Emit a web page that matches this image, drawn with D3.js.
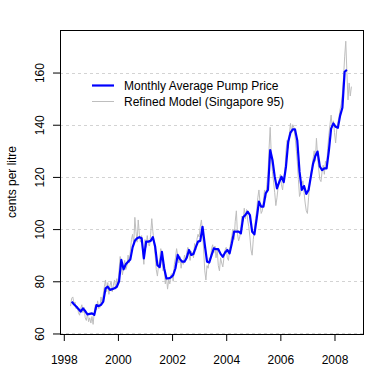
<!DOCTYPE html>
<html>
<head>
<meta charset="utf-8">
<script src="https://cdn.jsdelivr.net/npm/d3@7"></script>
<style>
  body { margin: 0; background: #fff; }
  svg text { font-family: "Liberation Sans", Arial, sans-serif; font-size: 12px; fill: #000; }
</style>
</head>
<body>
<div id="chart"></div>
<script>
// monthly average pump price, April 1998 .. June 2008 (cents per litre)
const pumpStart = 1998 + 3 / 12;
const pumpPrice = [
  72.2, 71.2, 70.3, 69.4, 68.4, 69.6, 68.6, 67.3, 67.5,
  67.7, 67.1, 70.9, 70.5, 71.0, 72.2, 77.3, 77.9, 76.7, 77.0, 77.3, 77.9,
  80.0, 88.2, 84.6, 86.5, 87.5, 88.4, 93.0, 95.5, 96.5, 96.9, 96.5, 88.8,
  95.2, 95.2, 95.5, 96.9, 93.3, 86.2, 85.4, 91.3, 85.0, 81.1, 81.1, 81.5,
  82.4, 85.0, 90.1, 88.5, 87.5, 87.5, 89.0, 92.0, 90.1, 90.5, 93.0, 95.2,
  95.5, 100.9, 94.0, 87.5, 87.2, 90.0, 92.6, 92.3, 92.3, 90.5, 89.4, 91.0,
  92.0, 90.7, 94.6, 99.0, 99.0, 99.0, 98.4, 104.5, 105.4, 106.7, 105.4, 99.0,
  98.0, 104.0, 110.5, 108.6, 108.6, 113.7, 115.0, 130.3, 126.5, 120.1, 115.6, 118.0,
  120.1, 118.0, 124.0, 133.5, 137.0, 138.2, 138.2, 134.0, 122.0, 115.0, 116.5, 113.5,
  115.0, 120.0, 125.0, 128.0, 129.7, 124.0, 122.6, 123.3, 123.3, 130.0, 138.5, 140.5,
  139.2, 138.8, 143.5, 146.5, 160.3, 161.0
];

// refined model (Singapore 95), half-monthly, April 1998 .. August 2008
const modelStart = 1998 + 3 / 12;
const modelPrice = [
  70.5, 73.5, 74, 71.5, 72, 69.5, 70.5, 68, 67, 69.5, 71, 68, 70, 66, 65, 67.5, 64.5, 66,
  64, 66.5, 63.5, 68, 71, 69, 72.5, 69.5, 70, 74, 71.5, 75, 78, 80.5, 76, 79.5, 75, 78.5, 80, 76, 78.5, 80.5, 77, 81,
  79, 84, 89.5, 86, 82.5, 85.5, 88, 84.5, 86, 90, 87, 91.5, 96, 98, 94, 104.5, 99, 95, 103.5, 98, 95, 97.5, 91, 86.5,
  96, 93, 97.5, 94, 93.5, 98, 104, 99, 95, 90, 84.5, 82, 86, 88.5, 92.5, 89, 84, 86.5, 79, 82, 77, 80.5, 79, 82.5,
  83, 80, 86.5, 89, 92.5, 90, 87, 89.5, 85, 88, 86.5, 90, 88, 91, 93, 90.5, 88, 91.5, 91, 89, 94.5, 92, 96, 98,
  97, 101, 103.5, 99, 92, 84, 80.5, 86, 85, 89, 88, 92.5, 94, 91, 93.5, 89, 92, 86, 84, 89, 87, 85.5, 89, 92,
  93, 89, 88, 92, 95, 97.5, 100, 96, 103, 107, 98, 95.5, 97, 101, 105, 103, 108, 104, 107.5, 103.5, 101, 97, 92, 90,
  96, 100, 104, 107, 112, 115, 110, 106, 107, 111, 115, 112, 117, 121, 131, 139, 128, 122, 118, 114, 109, 112, 116, 119,
  121, 117, 115, 119.5, 122, 130, 134, 131, 136.5, 140.5, 137, 140, 139, 135.5, 131, 126, 119, 112.5, 114, 117, 118.5, 114, 110, 107,
  106, 112, 117, 121.5, 124, 127, 130, 126, 134.8, 128, 123, 119, 118.2, 122, 124.5, 121, 126, 124, 131, 136, 140, 143.7, 139, 141.5,
  137, 133, 138, 141, 143, 146, 148, 152, 158, 166, 172, 160, 149.5, 156, 151, 154.6
];

const yearTicks = [1998, 2000, 2002, 2004, 2006, 2008];
const priceTicks = [60, 80, 100, 120, 140, 160];
const seriesNames = ["Monthly Average Pump Price", "Refined Model (Singapore 95)"];
const seriesColors = ["#0000ff", "#bebebe"];

const W = 380, H = 380;
const margin = { top: 30, right: 16, bottom: 46, left: 60 };

const svg = d3.select("#chart").append("svg")
  .attr("width", W).attr("height", H);

const x = d3.scaleLinear().domain([1997.86, 2009.09]).range([margin.left, W - margin.right]);
const y = d3.scaleLinear().domain([59.8, 176.3]).range([H - margin.bottom, margin.top]);

const pump = pumpPrice.map((v, i) => ({ t: pumpStart + (i + 0.5) / 12, v }));
const model = modelPrice.map((v, i) => ({ t: modelStart + i / 24, v }));

// grid
svg.append("g").selectAll("line").data(priceTicks).join("line")
  .attr("x1", margin.left).attr("x2", W - margin.right)
  .attr("y1", d => Math.round(y(d)) + 0.5).attr("y2", d => Math.round(y(d)) + 0.5)
  .attr("stroke", "#d3d3d3").attr("stroke-dasharray", "3,3");

const line = d3.line().x(d => x(d.t)).y(d => y(d.v));

svg.append("path").datum(model)
  .attr("d", line).attr("fill", "none")
  .attr("stroke", seriesColors[1]).attr("stroke-width", 1);

svg.append("path").datum(pump)
  .attr("d", line).attr("fill", "none")
  .attr("stroke", seriesColors[0]).attr("stroke-width", 2.2)
  .attr("stroke-linejoin", "round");

// axes
const xAxis = svg.append("g")
  .attr("transform", "translate(0," + (H - margin.bottom) + ")")
  .call(d3.axisBottom(x).tickValues(yearTicks).tickFormat(d3.format("d")).tickSize(7).tickPadding(14));
xAxis.select(".domain").remove();
xAxis.selectAll("text").style("font-size", "12px").attr("font-family", null);

const yAxis = svg.append("g")
  .attr("transform", "translate(" + margin.left + ",0)")
  .call(d3.axisLeft(y).tickValues(priceTicks).tickSize(7).tickPadding(0));
yAxis.select(".domain").remove();
yAxis.selectAll(".tick text")
  .attr("x", null).attr("dy", null)
  .attr("text-anchor", "middle")
  .attr("transform", "translate(-16,0) rotate(-90)")
  .style("font-size", "12px");

svg.selectAll(".tick line").attr("stroke", "#000");

// frame
svg.append("rect")
  .attr("x", margin.left + 0.5).attr("y", margin.top + 0.5)
  .attr("width", W - margin.left - margin.right - 1)
  .attr("height", H - margin.top - margin.bottom)
  .attr("fill", "none").attr("stroke", "#000");

svg.append("text")
  .attr("transform", "translate(16," + (margin.top + H - margin.bottom) / 2 + ") rotate(-90)")
  .attr("text-anchor", "middle")
  .text("cents per litre");

// legend
const legend = svg.append("g").attr("transform", "translate(92,85)");
seriesNames.forEach((name, i) => {
  const g = legend.append("g").attr("transform", "translate(0," + i * 16 + ")");
  g.append("line").attr("x1", 0).attr("x2", 22).attr("y1", 0.5).attr("y2", 0.5)
    .attr("stroke", seriesColors[i]).attr("stroke-width", i === 0 ? 2.2 : 1);
  g.append("text").attr("x", 32).attr("y", 4.5).text(name);
});
</script>
</body>
</html>
